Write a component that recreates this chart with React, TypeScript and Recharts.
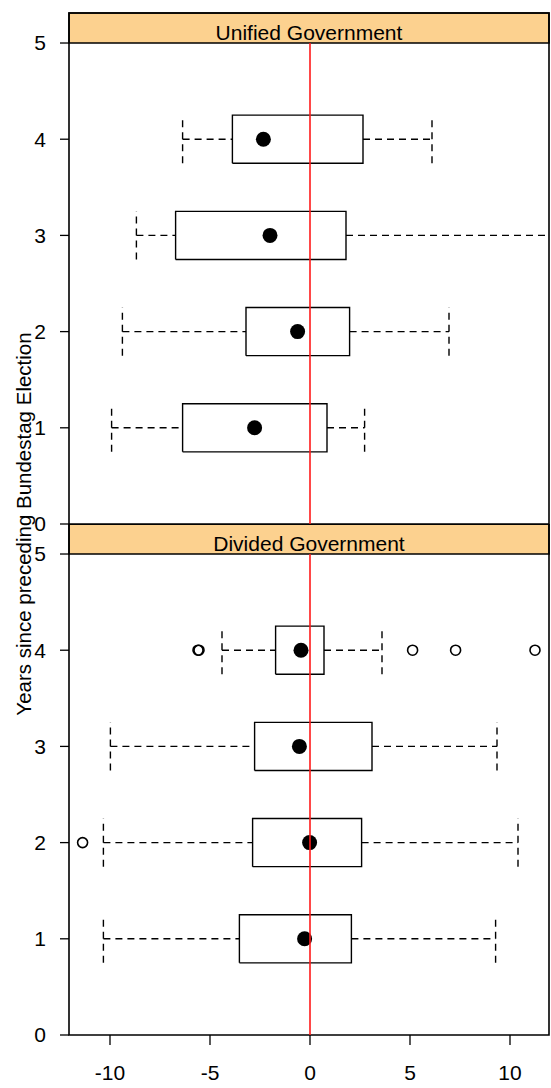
import { ScatterChart, Scatter, XAxis, YAxis, ReferenceArea } from "recharts";

const years = [1, 2, 3, 4];

// Unified Government (one value per year 1..4)
const unifiedLower = [-9.92, -9.38, -8.68, -6.37];
const unifiedQ1 = [-6.37, -3.2, -6.72, -3.88];
const unifiedMedian = [-2.77, -0.62, -2.0, -2.33];
const unifiedQ3 = [0.85, 1.98, 1.8, 2.65];
const unifiedUpper = [2.73, 6.95, 12.6, 6.1];
const unifiedOutlierX: number[] = [];
const unifiedOutlierY: number[] = [];

// Divided Government
const dividedLower = [-10.33, -10.33, -9.98, -4.4];
const dividedQ1 = [-3.53, -2.87, -2.77, -1.72];
const dividedMedian = [-0.27, -0.02, -0.53, -0.45];
const dividedQ3 = [2.07, 2.58, 3.1, 0.7];
const dividedUpper = [9.28, 10.4, 9.35, 3.6];
const dividedOutlierX = [-11.37, -5.6, -5.55, 5.13, 7.28, 11.25];
const dividedOutlierY = [2, 4, 4, 4, 4, 4];

const xTicks = [-10, -5, 0, 5, 10];
const yTicks = [0, 1, 2, 3, 4, 5];
const xDomain: [number, number] = [-12.05, 11.95];
const yDomain: [number, number] = [0, 5.312];
const stripBottom = 5;

const BOX_HALF = 0.25;
const FONT = "'Liberation Sans', Arial, Helvetica, sans-serif";
const tickStyle = { fill: "#000", fontSize: 21, fontFamily: FONT };
const dash = "7 5";

const noShape = () => <g />;
const medianDot = (p: any) => <circle cx={p.cx} cy={p.cy} r={7.5} fill="#000" />;
const openDot = (p: any) => <circle cx={p.cx} cy={p.cy} r={5} fill="none" stroke="#000" strokeWidth={1.6} />;

interface PanelProps {
  title: string;
  lower: number[];
  q1: number[];
  median: number[];
  q3: number[];
  upper: number[];
  outX: number[];
  outY: number[];
  top: boolean;
  height: number;
}

const seg = (key: string, data: { x: number; y: number }[], dashed: boolean) => (
  <Scatter
    key={key}
    data={data}
    shape={noShape}
    line={{ stroke: "#000", strokeWidth: 1.4, strokeDasharray: dashed ? dash : undefined }}
    isAnimationActive={false}
  />
);

const Panel = ({ title, lower, q1, median, q3, upper, outX, outY, top, height }: PanelProps) => {
  const items: any[] = [];
  years.forEach((y, i) => {
    items.push(
      seg(`box${i}`, [
        { x: q1[i], y: y - BOX_HALF },
        { x: q3[i], y: y - BOX_HALF },
        { x: q3[i], y: y + BOX_HALF },
        { x: q1[i], y: y + BOX_HALF },
        { x: q1[i], y: y - BOX_HALF },
      ], false)
    );
    items.push(seg(`wl${i}`, [{ x: lower[i], y }, { x: q1[i], y }], true));
    items.push(seg(`wu${i}`, [{ x: q3[i], y }, { x: upper[i], y }], true));
    items.push(seg(`cl${i}`, [{ x: lower[i], y: y - BOX_HALF }, { x: lower[i], y: y + BOX_HALF }], true));
    items.push(seg(`cu${i}`, [{ x: upper[i], y: y - BOX_HALF }, { x: upper[i], y: y + BOX_HALF }], true));
  });
  const medians = years.map((y, i) => ({ x: median[i], y }));
  const outliers = outX.map((x, i) => ({ x, y: outY[i] }));

  return (
    <ScatterChart
      width={551}
      height={height}
      margin={{ top: 0, right: 2, bottom: top ? 16 : 0, left: 0 }}
    >
      <XAxis
        type="number"
        dataKey="x"
        domain={xDomain}
        ticks={xTicks}
        interval={0}
        allowDataOverflow
        orientation={top ? "top" : "bottom"}
        height={top ? 13 : 53}
        tick={top ? false : tickStyle}
        tickSize={10}
        tickMargin={20}
        axisLine={false}
        tickLine={{ stroke: "#000", strokeWidth: 1.3 }}
      />
      <YAxis
        type="number"
        dataKey="y"
        domain={yDomain}
        ticks={yTicks}
        interval={0}
        allowDataOverflow
        width={69}
        tick={tickStyle}
        tickSize={9}
        tickMargin={14}
        axisLine={false}
        tickLine={{ stroke: "#000", strokeWidth: 1.3 }}
      />
      <ReferenceArea
        x1={xDomain[0]}
        x2={xDomain[1]}
        y1={stripBottom}
        y2={yDomain[1]}
        fill="#FCD18F"
        fillOpacity={1}
        stroke="#000"
        strokeWidth={1.6}
        label={{ value: title, position: "insideBottom", offset: 3.5, fill: "#000", fontSize: 21, fontFamily: FONT }}
      />
      <ReferenceArea
        x1={xDomain[0]}
        x2={xDomain[1]}
        y1={yDomain[0]}
        y2={yDomain[1]}
        fill="none"
        stroke="#000"
        strokeWidth={1.6}
      />
      {items}
      <Scatter data={medians} shape={medianDot} isAnimationActive={false} />
      <Scatter data={outliers} shape={openDot} isAnimationActive={false} />
      <Scatter
        data={[{ x: 0, y: 0 }, { x: 0, y: stripBottom }]}
        shape={noShape}
        line={{ stroke: "#ff1a1a", strokeWidth: 1.6 }}
        isAnimationActive={false}
      />
    </ScatterChart>
  );
};

export default function App() {
  return (
    <div style={{ position: "absolute", left: 0, top: 0, width: 551, height: 1088, background: "#fff" }}>
      <div style={{ position: "absolute", left: 0, top: 524 }}>
        <Panel
          title="Divided Government"
          lower={dividedLower}
          q1={dividedQ1}
          median={dividedMedian}
          q3={dividedQ3}
          upper={dividedUpper}
          outX={dividedOutlierX}
          outY={dividedOutlierY}
          top={false}
          height={564}
        />
      </div>
      <div style={{ position: "absolute", left: 0, top: 0 }}>
        <Panel
          title="Unified Government"
          lower={unifiedLower}
          q1={unifiedQ1}
          median={unifiedMedian}
          q3={unifiedQ3}
          upper={unifiedUpper}
          outX={unifiedOutlierX}
          outY={unifiedOutlierY}
          top
          height={540}
        />
      </div>
      <svg
        width={551}
        height={1088}
        style={{ position: "absolute", left: 0, top: 0, pointerEvents: "none" }}
      >
        <text
          transform="translate(31,524) rotate(-90)"
          textAnchor="middle"
          fontSize={20.5}
          fontFamily={FONT}
          fill="#000"
        >
          Years since preceding Bundestag Election
        </text>
      </svg>
    </div>
  );
}
